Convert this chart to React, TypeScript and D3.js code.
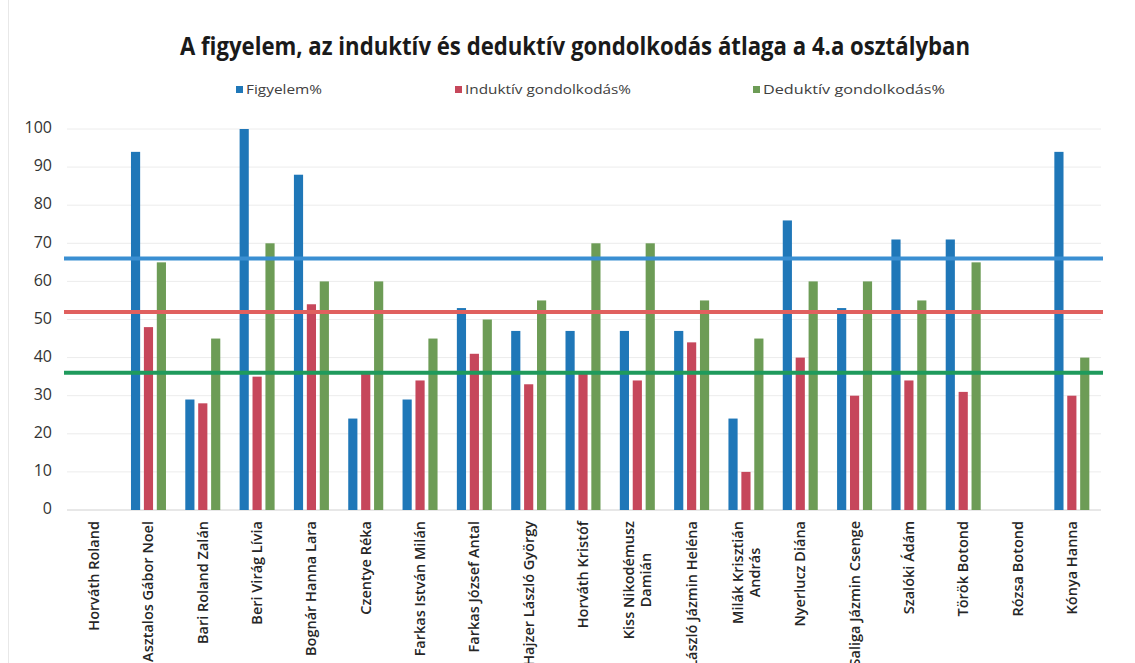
import React, { useEffect, useRef } from "react";
import * as d3 from "d3";

const categories: string[][] = [
  ["Horváth Roland"],
  ["Asztalos Gábor Noel"],
  ["Bari Roland Zalán"],
  ["Beri Virág Lívia"],
  ["Bognár Hanna Lara"],
  ["Czentye Réka"],
  ["Farkas István Milán"],
  ["Farkas József Antal"],
  ["Hajzer László György"],
  ["Horváth Kristóf"],
  ["Kiss Nikodémusz", "Damián"],
  ["László Jázmin Heléna"],
  ["Milák Krisztián", "András"],
  ["Nyerlucz Diána"],
  ["Saliga Jázmin Csenge"],
  ["Szalóki Ádám"],
  ["Török Botond"],
  ["Rózsa Botond"],
  ["Kónya Hanna"],
];

const figyelem: (number | null)[] = [null, 94, 29, 100, 88, 24, 29, 53, 47, 47, 47, 47, 24, 76, 53, 71, 71, null, 94];
const induktiv: (number | null)[] = [null, 48, 28, 35, 54, 36, 34, 41, 33, 36, 34, 44, 10, 40, 30, 34, 31, null, 30];
const deduktiv: (number | null)[] = [null, 65, 45, 70, 60, 60, 45, 50, 55, 70, 70, 55, 45, 60, 60, 55, 65, null, 40];

const seriesNames = ["Figyelem%", "Induktív gondolkodás%", "Deduktív gondolkodás%"];
const barColors = ["#1f77b8", "#c6475b", "#6d9c56"];
const lineColors = ["#3a8fd2", "#e0605e", "#1f9a5c"];
const averages = [66, 52, 36];
const yTicks = [0, 10, 20, 30, 40, 50, 60, 70, 80, 90, 100];

const W = 1135;
const H = 663;

export default function App() {
  const ref = useRef<SVGSVGElement | null>(null);

  useEffect(() => {
    const svg = d3.select(ref.current);
    svg.selectAll("*").remove();

    const left = 67, right = 1099, top = 129, bottom = 510;
    const keys = categories.map((c) => c.join(" "));
    const x0 = d3.scaleBand<string>().domain(keys).range([left, right]).paddingInner(0).paddingOuter(0);
    const bw = x0.bandwidth();
    const gw = 35;
    const x1 = d3.scaleBand<number>().domain([0, 1, 2]).range([(bw - gw) / 2, (bw + gw) / 2]).paddingInner(0.29);
    const y = d3.scaleLinear().domain([0, 100]).range([bottom, top]);
    const font = "'Open Sans', 'Liberation Sans', sans-serif";

    // background + border
    svg.append("rect").attr("x", 0).attr("y", 0).attr("width", W).attr("height", H).attr("fill", "#fff");
    svg.append("line").attr("x1", 8.5).attr("x2", 8.5).attr("y1", 0).attr("y2", H).attr("stroke", "#e8e8e8");

    // title
    svg.append("text")
      .attr("x", 575).attr("y", 55)
      .attr("text-anchor", "middle")
      .attr("font-family", "'Liberation Sans Narrow', 'Open Sans', sans-serif")
      .attr("font-weight", 700)
      .attr("font-size", 25)
      .attr("fill", "#1a1a1a")
      .attr("textLength", 790)
      .attr("lengthAdjust", "spacingAndGlyphs")
      .text("A figyelem, az induktív és deduktív gondolkodás átlaga a 4.a osztályban");

    // legend
    const legendX = [236, 455, 753];
    const legendW = [76, 166, 182];
    seriesNames.forEach((n, i) => {
      svg.append("rect").attr("x", legendX[i]).attr("y", 86).attr("width", 7).attr("height", 7).attr("fill", barColors[i]);
      svg.append("text")
        .attr("x", legendX[i] + 10).attr("y", 90)
        .attr("dominant-baseline", "middle")
        .attr("font-family", font).attr("font-size", 13.5)
        .attr("fill", "#404040")
        .attr("textLength", legendW[i])
        .attr("lengthAdjust", "spacingAndGlyphs")
        .text(n);
    });

    // gridlines
    svg.append("g").selectAll("line").data(yTicks).join("line")
      .attr("x1", left).attr("x2", right + 2)
      .attr("y1", (d) => y(d)).attr("y2", (d) => y(d))
      .attr("stroke", (d) => (d === 0 ? "#d0d0d0" : "#ececec"))
      .attr("stroke-width", 1);

    // y labels
    svg.append("g").selectAll("text").data(yTicks).join("text")
      .attr("x", 52).attr("y", (d) => y(d))
      .attr("text-anchor", "end").attr("dominant-baseline", "middle")
      .attr("font-family", font).attr("font-size", 16)
      .attr("fill", "#333")
      .text((d) => String(d));

    // bars
    const series = [figyelem, induktiv, deduktiv];
    series.forEach((vals, si) => {
      svg.append("g").selectAll("rect")
        .data(vals.map((v, i) => ({ v, k: keys[i] })).filter((d) => d.v !== null))
        .join("rect")
        .attr("x", (d) => (x0(d.k) as number) + (x1(si) as number))
        .attr("width", x1.bandwidth())
        .attr("y", (d) => y(d.v as number))
        .attr("height", (d) => y(0) - y(d.v as number))
        .attr("fill", barColors[si]);
    });

    // average lines
    averages.forEach((a, i) => {
      svg.append("line")
        .attr("x1", 64).attr("x2", 1103)
        .attr("y1", y(a)).attr("y2", y(a))
        .attr("stroke", lineColors[i]).attr("stroke-width", 4);
    });

    // x labels
    const lg = svg.append("g");
    const fs = 14.5;
    categories.forEach((lines, i) => {
      const cx = (x0(keys[i]) as number) + bw / 2;
      const ty = 521;
      if (lines.length === 1) {
        lg.append("text")
          .attr("transform", `translate(${cx + 5},${ty}) rotate(-90)`)
          .attr("text-anchor", "end")
          .attr("font-family", font).attr("font-size", fs).attr("font-weight", 600)
          .attr("fill", "#262626")
          .text(lines[0]);
      } else {
        const t1 = lg.append("text")
          .attr("transform", `translate(${cx - 3},${ty}) rotate(-90)`)
          .attr("text-anchor", "end")
          .attr("font-family", font).attr("font-size", fs).attr("font-weight", 600)
          .attr("fill", "#262626")
          .text(lines[0]);
        const len = (t1.node() as SVGTextElement).getComputedTextLength();
        lg.append("text")
          .attr("transform", `translate(${cx + 14},${ty + len / 2}) rotate(-90)`)
          .attr("text-anchor", "middle")
          .attr("font-family", font).attr("font-size", fs).attr("font-weight", 600)
          .attr("fill", "#262626")
          .text(lines[1]);
      }
    });
  }, []);

  return (
    <svg
      ref={ref}
      width={W}
      height={H}
      style={{ position: "absolute", left: 0, top: 0, display: "block" }}
    />
  );
}
